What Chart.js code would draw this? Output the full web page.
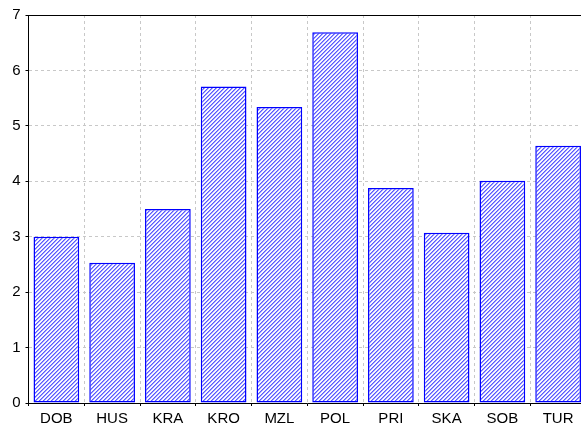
<!DOCTYPE html>
<html>
<head>
<meta charset="utf-8">
<script src="https://cdn.jsdelivr.net/npm/chart.js@4/dist/chart.umd.min.js"></script>
<style>
  html, body { margin: 0; padding: 0; background: #fff; overflow: hidden; width: 581px; height: 428px; }
  #wrap { width: 586px; height: 428px; }
</style>
</head>
<body>
<div id="wrap"><canvas id="barChart" width="586" height="428"></canvas></div>
<script>
// data
const categories = ['DOB', 'HUS', 'KRA', 'KRO', 'MZL', 'POL', 'PRI', 'SKA', 'SOB', 'TUR'];
const values = [3.0, 2.53, 3.5, 5.71, 5.34, 6.69, 3.88, 3.07, 4.01, 4.64];
const yTicks = [0, 1, 2, 3, 4, 5, 6, 7];

// diagonal hatch fill, built pixel by pixel so it stays crisp
function makeHatch() {
    const c = document.createElement('canvas');
    c.width = 4; c.height = 4;
    const g = c.getContext('2d');
    g.fillStyle = '#eeeeff';
    g.fillRect(0, 0, 4, 4);
    for (let x = 0; x < 4; x++) {
        g.fillStyle = '#5a5aff';
        g.fillRect(x, 3 - x, 1, 1);
        g.fillStyle = '#a0a0ff';
        g.fillRect(x, (4 - x) % 4, 1, 1);
        g.fillStyle = '#ffffff';
        g.fillRect(x, (5 - x) % 4, 1, 1);
    }
    return g.createPattern(c, 'repeat');
}

const topBorder = {
    id: 'topBorder',
    afterDraw(chart) {
        const { ctx, chartArea } = chart;
        ctx.save();
        ctx.strokeStyle = '#000';
        ctx.lineWidth = 1;
        ctx.beginPath();
        ctx.moveTo(chartArea.left, Math.round(chartArea.top) + 0.5);
        ctx.lineTo(chartArea.right, Math.round(chartArea.top) + 0.5);
        ctx.stroke();
        ctx.restore();
    }
};

const tickFont = { family: 'Liberation Sans, Arial', size: 15 };

const ctx = document.getElementById('barChart').getContext('2d');
const barChart = new Chart(ctx, {
    type: 'bar',
    data: {
        labels: categories,
        datasets: [{
            data: values,
            backgroundColor: makeHatch(),
            borderColor: '#0000ff',
            borderWidth: 1.5,
            borderSkipped: false,
            categoryPercentage: 1.0,
            barPercentage: 0.82
        }]
    },
    options: {
        responsive: false,
        animation: false,
        layout: { padding: { top: 15, right: 0, bottom: 0, left: 0 } },
        plugins: {
            legend: { display: false },
            tooltip: { enabled: false }
        },
        scales: {
            x: {
                afterFit: (scale) => { scale.height = 25; },
                border: { display: true, color: '#000', width: 1, dash: [3, 3] },
                grid: { color: '#c8c8c8', tickColor: '#000', tickLength: 3, tickBorderDash: [] },
                ticks: { color: '#000', font: tickFont, padding: 4 }
            },
            y: {
                min: 0,
                max: 7,
                afterFit: (scale) => { scale.width = 28.5; },
                afterBuildTicks: (scale) => { scale.ticks = yTicks.map(v => ({ value: v })); },
                border: { display: true, color: '#000', width: 1, dash: [3, 3] },
                grid: { color: '#c8c8c8', tickColor: '#000', tickLength: 3, tickBorderDash: [] },
                ticks: { color: '#000', font: tickFont, padding: 5 }
            }
        }
    },
    plugins: [topBorder]
});
</script>
</body>
</html>
